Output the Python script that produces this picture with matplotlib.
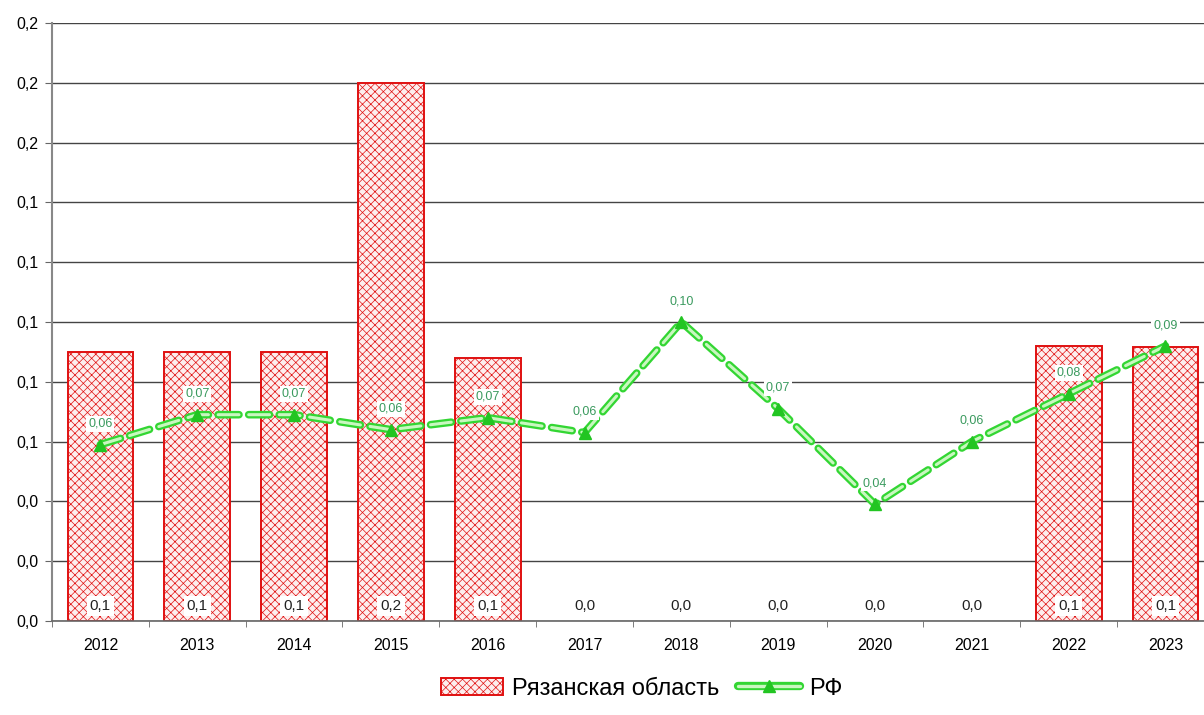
import numpy as np
import matplotlib
matplotlib.use("Agg")
import matplotlib.pyplot as plt
from matplotlib.ticker import FuncFormatter, MultipleLocator, FixedLocator
from matplotlib.lines import Line2D
from matplotlib.patches import Patch

plt.rcParams["font.family"] = ["Liberation Sans", "DejaVu Sans"]
plt.rcParams["lines.scale_dashes"] = False
plt.rcParams["hatch.linewidth"] = 0.5
plt.rcParams["hatch.color"] = "#f06a6a"

# ── Data ─────────────────────────────────────────────────────────────────────
years = ["2012", "2013", "2014", "2015", "2016", "2017",
         "2018", "2019", "2020", "2021", "2022", "2023"]
ryazan = [0.09, 0.09, 0.09, 0.18, 0.088, 0.0, 0.0, 0.0, 0.0, 0.0, 0.092, 0.0915]
rf     = [0.059, 0.069, 0.069, 0.064, 0.068, 0.063,
          0.100, 0.071, 0.039, 0.060, 0.076, 0.092]

RED = "#e01010"
GREEN_DARK = "#33d633"
GREEN_LIGHT = "#c9f7c0"
LABEL_GREEN = "#3a9a5e"

def comma(v, dec):
    return f"{v:.{dec}f}".replace(".", ",")

fig = plt.figure(figsize=(12.04, 7.15), dpi=100)
ax = fig.add_axes([0.0432, 0.1315, 0.965, 0.8363])
x = np.arange(len(years))

# bars (no outline for empty years)
edges = [RED if v > 0 else "none" for v in ryazan]
ax.bar(x, ryazan, width=0.68, facecolor="#fdeeee", edgecolor=edges,
       linewidth=1.4, hatch="xxxx", zorder=2)
for xi, v in zip(x, ryazan):
    ax.annotate(comma(v, 1), (xi, 0), xytext=(0, 11), textcoords="offset points",
                ha="center", va="center", fontsize=11, color="#222222",
                bbox=dict(boxstyle="square,pad=0.2", fc="white", ec="none"),
                zorder=5)

# RF line: outlined dashes
ax.plot(x, rf, color=GREEN_DARK, lw=5.5, dashes=(15, 7),
        dash_capstyle="round", zorder=3)
ax.plot(x, rf, color=GREEN_LIGHT, lw=2.2, dashes=(15, 7),
        dash_capstyle="round", zorder=3)
ax.plot(x, rf, ls="none", marker="^", ms=8, color="#22c522", zorder=4)
for xi, v in zip(x, rf):
    ax.annotate(comma(v, 2), (xi, v), xytext=(0, 15), textcoords="offset points",
                ha="center", va="center", fontsize=9, color=LABEL_GREEN,
                bbox=dict(boxstyle="square,pad=0.15", fc="white", ec="none"),
                zorder=5)

# axes styling
ax.set_xlim(-0.5, len(years) - 0.5)
ax.set_ylim(0, 0.20)
ax.yaxis.set_major_locator(MultipleLocator(0.02))
ax.yaxis.set_major_formatter(FuncFormatter(lambda v, p: comma(v, 1)))
ax.grid(axis="y", color="#444444", lw=1.0, zorder=0)
ax.set_axisbelow(True)
ax.set_xticks(x)
ax.set_xticklabels(years)
ax.xaxis.set_minor_locator(FixedLocator(np.arange(-0.5, len(years), 1.0)))
ax.tick_params(axis="x", which="major", length=0, labelsize=11.5, pad=12)
ax.tick_params(axis="x", which="minor", length=4, color="#666666")
ax.tick_params(axis="y", length=5, color="#666666", labelsize=11.5, pad=5)
for s in ["top", "right"]:
    ax.spines[s].set_visible(False)
ax.spines["left"].set_color("#888888")
ax.spines["left"].set_linewidth(1.5)
ax.spines["bottom"].set_color("#666666")
ax.spines["bottom"].set_linewidth(1.2)

# legend
h_bar = Patch(facecolor="#fdeeee", edgecolor=RED, hatch="xxxx", lw=1.4)
h_outer = Line2D([0], [0], color=GREEN_DARK, lw=6, solid_capstyle="round")
h_inner = Line2D([0], [0], color=GREEN_LIGHT, lw=2.4, solid_capstyle="round")
h_mark = Line2D([0], [0], ls="none", marker="^", ms=8, color="#22c522")
fig.legend([h_bar, (h_outer, h_inner, h_mark)], ["Рязанская область", "РФ"],
           loc="center", bbox_to_anchor=(0.533, 0.037), ncol=2,
           frameon=False, fontsize=17, handlelength=2.6,
           columnspacing=0.8, handletextpad=0.4)

plt.savefig("out.png", dpi=100)
